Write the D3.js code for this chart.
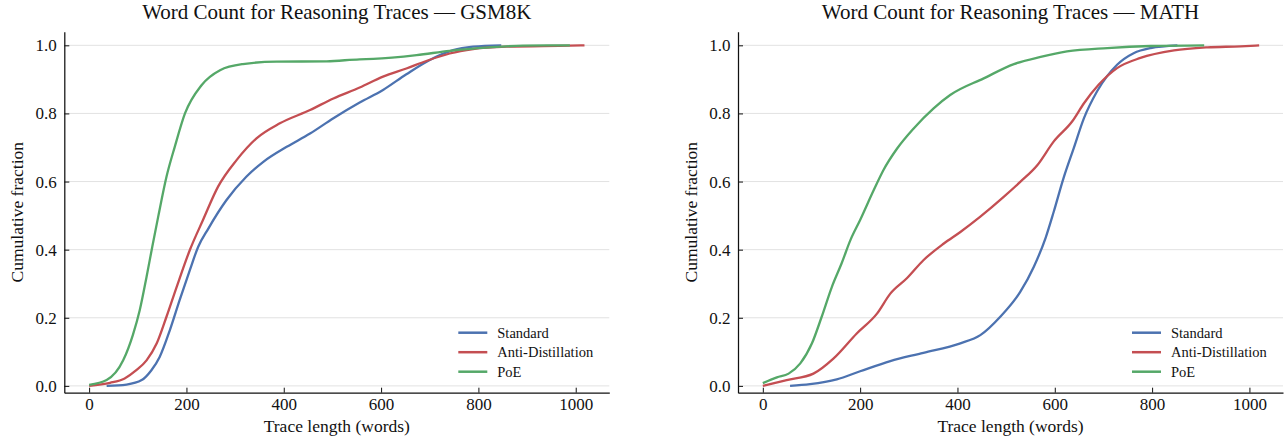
<!DOCTYPE html>
<html>
<head>
<meta charset="utf-8" />
<title>Word Count for Reasoning Traces</title>
<script src="https://d3js.org/d3.v7.min.js"></script>
<style>
body { margin: 0; background: #fff; }
svg text { font-family: "Liberation Serif", "Times New Roman", serif; fill: #111; }
.axis path { stroke: #111; stroke-width: 1.25px; }
.axis line { stroke: #111; stroke-width: 1px; }
.axis text { font-size: 17px; }
.grid line { stroke: #e2e2e2; stroke-width: 1px; }
</style>
</head>
<body>
<script>
// GSM8K
var gsmStandardX = [36, 77, 108, 128, 145, 166, 186, 207, 224, 245, 282, 323, 358, 406, 454, 502, 556, 604, 652, 700, 748, 789, 847];
var gsmStandardY = [0, 0.004, 0.017, 0.046, 0.085, 0.164, 0.252, 0.34, 0.408, 0.462, 0.545, 0.614, 0.658, 0.702, 0.741, 0.786, 0.832, 0.869, 0.915, 0.957, 0.986, 0.996, 1.0];
var gsmAntiX = [0, 43, 73, 97, 118, 139, 159, 180, 207, 234, 265, 303, 344, 392, 454, 502, 556, 604, 652, 693, 741, 789, 858, 988, 1018];
var gsmAntiY = [0, 0.009, 0.022, 0.046, 0.075, 0.125, 0.203, 0.291, 0.399, 0.487, 0.585, 0.663, 0.727, 0.771, 0.81, 0.844, 0.876, 0.908, 0.932, 0.954, 0.976, 0.989, 0.996, 0.999, 1.0];
var gsmPoeX = [0, 36, 70, 90, 104, 118, 130, 142, 159, 176, 197, 231, 269, 316, 385, 488, 556, 584, 673, 741, 823, 892, 988];
var gsmPoeY = [0.003, 0.017, 0.075, 0.15, 0.222, 0.32, 0.41, 0.497, 0.614, 0.702, 0.80, 0.883, 0.927, 0.945, 0.952, 0.953, 0.959, 0.96, 0.971, 0.984, 0.994, 0.999, 1.0];

// MATH
var mathStandardX = [56, 97, 152, 200, 262, 330, 406, 447, 488, 529, 557, 581, 598, 618, 639, 660, 687, 728, 762, 797, 852];
var mathStandardY = [0, 0.005, 0.019, 0.043, 0.073, 0.097, 0.125, 0.149, 0.203, 0.276, 0.35, 0.434, 0.512, 0.61, 0.698, 0.786, 0.865, 0.943, 0.977, 0.992, 1.0];
var mathAntiX = [0, 49, 104, 145, 193, 235, 262, 296, 330, 372, 406, 447, 495, 529, 564, 598, 636, 660, 690, 728, 776, 845, 914, 982, 1020];
var mathAntiY = [0, 0.017, 0.036, 0.08, 0.154, 0.213, 0.271, 0.316, 0.369, 0.418, 0.452, 0.497, 0.555, 0.599, 0.648, 0.718, 0.777, 0.83, 0.884, 0.933, 0.963, 0.985, 0.994, 0.997, 1.0];
var mathPoeX = [0, 29, 53, 77, 101, 121, 142, 162, 180, 200, 228, 248, 276, 310, 351, 385, 454, 516, 571, 625, 708, 797, 907];
var mathPoeY = [0.008, 0.025, 0.036, 0.066, 0.125, 0.203, 0.291, 0.36, 0.428, 0.487, 0.575, 0.634, 0.697, 0.756, 0.815, 0.854, 0.903, 0.945, 0.966, 0.982, 0.992, 0.998, 1.0];

var seriesNames = ["Standard", "Anti-Distillation", "PoE"];
var colors = ["#4c72b0", "#c44e52", "#55a868"];
var xTicks = [0, 200, 400, 600, 800, 1000];
var yTicks = [0, 0.2, 0.4, 0.6, 0.8, 1.0];

var svg = d3.select("body").append("svg")
    .attr("width", 1286)
    .attr("height", 442);

var plotTop = 31.7, plotBottom = 392.7, plotW = 545;

function zip(xs, ys) {
    return xs.map(function(d, i) { return [d, ys[i]]; });
}

function drawPanel(left, title, series) {
    var x = d3.scaleLinear().domain([-51, 1069]).range([left, left + plotW]);
    var y = d3.scaleLinear().domain([-0.02, 1.04]).range([plotBottom, plotTop]);
    var g = svg.append("g");

    // grid
    g.append("g").attr("class", "grid")
        .selectAll("line").data(yTicks).enter().append("line")
        .attr("x1", left).attr("x2", left + plotW)
        .attr("y1", function(d) { return y(d); })
        .attr("y2", function(d) { return y(d); });

    var line = d3.line()
        .x(function(d) { return x(d[0]); })
        .y(function(d) { return y(d[1]); })
        .curve(d3.curveMonotoneX);

    g.selectAll(".series").data(series).enter().append("path")
        .attr("class", "series")
        .attr("d", function(d) { return line(d); })
        .style("fill", "none")
        .style("stroke", function(d, i) { return colors[i]; })
        .style("stroke-width", 2.3)
        .style("stroke-linejoin", "round");

    var xAxis = d3.axisBottom(x).tickValues(xTicks).tickSize(-5).tickSizeOuter(0).tickPadding(5)
        .tickFormat(d3.format("d"));
    var yAxis = d3.axisLeft(y).tickValues(yTicks).tickSize(-5).tickSizeOuter(0).tickPadding(7.5)
        .tickFormat(d3.format(".1f"));

    g.append("g").attr("class", "axis")
        .attr("transform", "translate(0," + plotBottom + ")")
        .call(xAxis);
    g.append("g").attr("class", "axis")
        .attr("transform", "translate(" + left + ",0)")
        .call(yAxis);
    g.selectAll(".axis text").style("font-family", "Liberation Serif").style("fill", "#111");

    g.append("text")
        .attr("x", left + plotW / 2).attr("y", 19)
        .attr("text-anchor", "middle")
        .style("font-size", "21px")
        .text(title);

    g.append("text")
        .attr("x", left + plotW / 2).attr("y", 432)
        .attr("text-anchor", "middle")
        .style("font-size", "17.5px")
        .text("Trace length (words)");

    g.append("text")
        .attr("transform", "translate(" + (left - 41) + "," + ((plotTop + plotBottom) / 2) + ") rotate(-90)")
        .attr("text-anchor", "middle")
        .style("font-size", "17.5px")
        .text("Cumulative fraction");

    // legend
    var leg = g.selectAll(".leg").data(seriesNames).enter().append("g")
        .attr("transform", function(d, i) { return "translate(" + (left + 394) + "," + (332.7 + i * 19.5) + ")"; });
    leg.append("line")
        .attr("x1", 0).attr("x2", 29).attr("y1", 0).attr("y2", 0)
        .style("stroke", function(d, i) { return colors[i]; })
        .style("stroke-width", 2.5);
    leg.append("text")
        .attr("x", 39).attr("y", 5)
        .style("font-size", "14.5px")
        .text(function(d) { return d; });
}

drawPanel(64.3, "Word Count for Reasoning Traces \u2014 GSM8K",
    [zip(gsmStandardX, gsmStandardY), zip(gsmAntiX, gsmAntiY), zip(gsmPoeX, gsmPoeY)]);
drawPanel(738, "Word Count for Reasoning Traces \u2014 MATH",
    [zip(mathStandardX, mathStandardY), zip(mathAntiX, mathAntiY), zip(mathPoeX, mathPoeY)]);
</script>
</body>
</html>
